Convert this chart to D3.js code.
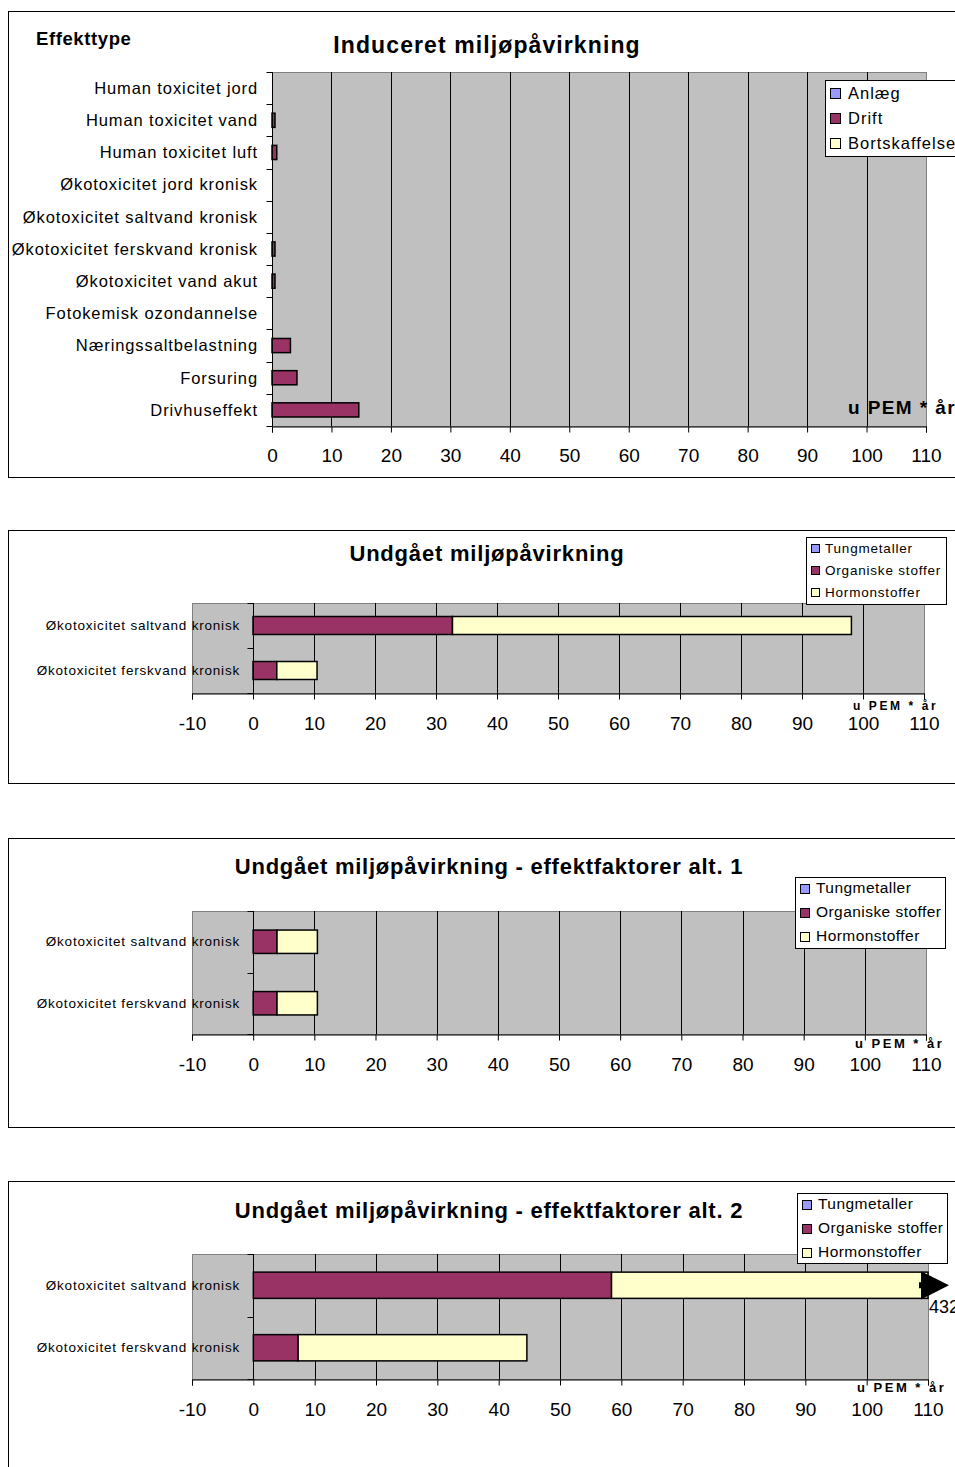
<!DOCTYPE html>
<html><head><meta charset="utf-8">
<script src="https://cdn.jsdelivr.net/npm/d3@7"></script>
<style>
body{margin:0;background:#fff;}
svg{display:block;font-family:"Liberation Sans",Arial,sans-serif;}
</style></head>
<body>
<svg id="c" width="955" height="1467"></svg>
<script>
// ---------- DATA ----------
const chart1Title = "Induceret miljøpåvirkning";
const chart1Categories = ["Human toxicitet jord","Human toxicitet vand","Human toxicitet luft","Økotoxicitet jord kronisk","Økotoxicitet saltvand kronisk","Økotoxicitet ferskvand kronisk","Økotoxicitet vand akut","Fotokemisk ozondannelse","Næringssaltbelastning","Forsuring","Drivhuseffekt"];
const chart1Series = ["Anlæg","Drift","Bortskaffelse"];
const chart1Anlaeg = [0,0,0,0,0,0,0,0,0,0,0];
const chart1Drift = [0,0.5,0.8,0,0,0.5,0.5,0,3.1,4.2,14.6];
const chart1Bortskaffelse = [0,0,0,0,0,0,0,0,0,0,0];
const chart1Ticks = [0,10,20,30,40,50,60,70,80,90,100,110];

const avoidedCategories = ["Økotoxicitet saltvand kronisk","Økotoxicitet ferskvand kronisk"];
const avoidedSeries = ["Tungmetaller","Organiske stoffer","Hormonstoffer"];
const avoidedTicks = [-10,0,10,20,30,40,50,60,70,80,90,100,110];

const chart2Title = "Undgået miljøpåvirkning";
const chart2Tung = [0,0];
const chart2Org = [32.7,3.9];
const chart2Horm = [65.4,6.6];

const chart3Title = "Undgået miljøpåvirkning - effektfaktorer alt. 1";
const chart3Tung = [0,0];
const chart3Org = [3.9,3.9];
const chart3Horm = [6.6,6.6];

const chart4Title = "Undgået miljøpåvirkning - effektfaktorer alt. 2";
const chart4Tung = [0,0];
const chart4Org = [58.4,7.3];
const chart4Horm = [373.6,37.3];
const chart4TotalLabel = ["432",""];

const unitLabel = "u PEM * år";
const colors = ["#9999FF","#993366","#FFFFCC"];

// ---------- DRAW ----------
const svg = d3.select("#c");

function drawChart(cfg){
  const g = svg.append("g");
  g.append("rect").attr("x",cfg.frame[0]+0.5).attr("y",cfg.frame[1]+0.5)
    .attr("width",cfg.frame[2]).attr("height",cfg.frame[3])
    .attr("fill","#fff").attr("stroke","#000").attr("stroke-width",1);

  const x = d3.scaleLinear().domain(cfg.domain).range([cfg.plot.x0,cfg.plot.x1]);
  const y = d3.scaleBand().domain(cfg.categories).range([cfg.plot.y0,cfg.plot.y1])
    .paddingInner(cfg.pad).paddingOuter(cfg.pad/2);

  g.append("rect").attr("x",cfg.plot.x0+0.5).attr("y",cfg.plot.y0+0.5)
    .attr("width",cfg.plot.x1-cfg.plot.x0).attr("height",cfg.plot.y1-cfg.plot.y0)
    .attr("fill","#C0C0C0").attr("stroke","#808080");

  g.append("g").selectAll("line").data(cfg.ticks.filter(t=>t!==cfg.domain[0] && t!==cfg.domain[1] && t!==0))
    .join("line").attr("x1",d=>Math.round(x(d))+0.5).attr("x2",d=>Math.round(x(d))+0.5)
    .attr("y1",cfg.plot.y0).attr("y2",cfg.plot.y1).attr("stroke","#000");

  const series = cfg.series;
  const stackData = cfg.categories.map((c,i)=>{const o={cat:c}; series.forEach((s,j)=>o[s]=cfg.values[j][i]); return o;});
  const stacked = d3.stack().keys(series)(stackData);
  const dmax = cfg.domain[1];
  stacked.forEach((layer,j)=>{
    g.append("g").selectAll("rect").data(layer.filter(d=>d[1]-d[0]>0)).join("rect")
      .attr("x",d=>x(Math.min(d[0],dmax)))
      .attr("y",d=>y(d.data.cat))
      .attr("width",d=>Math.max(0,x(Math.min(d[1],dmax))-x(Math.min(d[0],dmax))))
      .attr("height",y.bandwidth())
      .attr("fill",colors[j]).attr("stroke","#000").attr("stroke-width",1.5);
  });

  if(cfg.overflow){
    cfg.categories.forEach((c,i)=>{
      const tot = d3.sum(cfg.values,v=>v[i]);
      if(tot>dmax){
        const xe = x(dmax), yc = y(c)+y.bandwidth()/2, h = y.bandwidth()+2;
        g.append("rect").attr("x",xe-9).attr("y",yc-3).attr("width",8).attr("height",6).attr("fill","#000");
        g.append("path").attr("d",`M${xe-7},${yc-h/2} L${xe+21},${yc} L${xe-7},${yc+h/2} Z`).attr("fill","#000");
        g.append("text").attr("x",xe+1).attr("y",yc+h/2+14).attr("font-size",18).text(cfg.overflow[i]);
      }
    });
  }

  const x0 = Math.round(x(0))+0.5;
  g.append("line").attr("x1",x0).attr("x2",x0).attr("y1",cfg.plot.y0).attr("y2",cfg.plot.y1).attr("stroke","#000");
  const bounds = [cfg.plot.y0].concat(cfg.categories.map(c=>y(c)+y.bandwidth()+y.step()*cfg.pad/2));
  g.append("g").selectAll("line").data(bounds).join("line")
    .attr("x1",x0-6).attr("x2",x0).attr("y1",d=>Math.round(d)+0.5).attr("y2",d=>Math.round(d)+0.5).attr("stroke","#000");

  g.append("g").selectAll("text").data(cfg.categories).join("text")
    .attr("x",cfg.labelX).attr("y",d=>y(d)+y.bandwidth()/2).attr("dy","0.35em")
    .attr("text-anchor","end").attr("font-size",cfg.labelSize).attr("letter-spacing",cfg.labelLs)
    .attr("fill","#000").text(d=>d);

  const ax = d3.axisBottom(x).tickValues(cfg.ticks).tickSize(6).tickPadding(cfg.tickPad).tickFormat(d=>String(d));
  const axg = g.append("g").attr("transform",`translate(0,${cfg.plot.y1+0.5})`).call(ax);
  axg.select(".domain").attr("stroke","#000");
  axg.selectAll(".tick line").attr("stroke","#000");
  axg.selectAll(".tick text").attr("font-size",cfg.tickSize).attr("fill","#000")
    .attr("font-family","Liberation Sans, Arial, sans-serif");

  g.append("text").attr("x",cfg.titleX).attr("y",cfg.titleY).attr("text-anchor","middle")
    .attr("font-weight","bold").attr("font-size",cfg.titleSize).attr("letter-spacing",cfg.titleLs).text(cfg.title);

  g.append("text").attr("x",cfg.unit.x).attr("y",cfg.unit.y).attr("font-weight","bold")
    .attr("font-size",cfg.unit.size).attr("letter-spacing",cfg.unit.ls).text(unitLabel);

  const L = cfg.legend;
  const lg = g.append("g");
  lg.append("rect").attr("x",L.x+0.5).attr("y",L.y+0.5).attr("width",L.w).attr("height",L.h)
    .attr("fill","#fff").attr("stroke","#000");
  series.forEach((s,j)=>{
    const yy = L.y+L.first+j*L.step;
    lg.append("rect").attr("x",L.x+5.5).attr("y",Math.round(yy-L.sw/2)+0.5).attr("width",L.sw).attr("height",L.sw)
      .attr("fill",colors[j]).attr("stroke","#000");
    lg.append("text").attr("x",L.x+L.tx).attr("y",yy).attr("dy","0.35em").attr("font-size",L.size)
      .attr("letter-spacing",L.ls).text(s);
  });
  return g;
}

// Chart 1
const c1 = drawChart({
  frame:[8,11,960,466], domain:[0,110], ticks:chart1Ticks,
  plot:{x0:272,x1:926,y0:72,y1:426}, categories:chart1Categories, pad:0.56,
  series:chart1Series, values:[chart1Anlaeg,chart1Drift,chart1Bortskaffelse],
  labelX:258, labelSize:16.5, labelLs:0.9, tickSize:19, tickPad:16,
  title:chart1Title, titleX:487, titleY:53, titleSize:23, titleLs:1.1,
  unit:{x:848,y:414,size:19,ls:1.4},
  legend:{x:825,y:80,w:140,h:76,first:13,step:25,sw:10,size:16.5,ls:1,tx:23}
});
c1.append("text").attr("x",36).attr("y",45).attr("font-weight","bold").attr("font-size",18.5)
  .attr("letter-spacing",0.6).text("Effekttype");

// Chart 2
drawChart({
  frame:[8,530,960,253], domain:[-10,110], ticks:avoidedTicks,
  plot:{x0:192,x1:924,y0:603,y1:693}, categories:avoidedCategories, pad:0.6,
  series:avoidedSeries, values:[chart2Tung,chart2Org,chart2Horm],
  labelX:240, labelSize:13.5, labelLs:0.8, tickSize:19, tickPad:17,
  title:chart2Title, titleX:487, titleY:561, titleSize:22, titleLs:0.8,
  unit:{x:853,y:710,size:12,ls:2.6},
  legend:{x:806,y:537,w:140,h:67,first:11,step:22,sw:8,size:13.5,ls:0.8,tx:19}
});

// Chart 3
drawChart({
  frame:[8,838,960,289], domain:[-10,110], ticks:avoidedTicks,
  plot:{x0:192,x1:926,y0:911,y1:1034}, categories:avoidedCategories, pad:0.62,
  series:avoidedSeries, values:[chart3Tung,chart3Org,chart3Horm],
  labelX:240, labelSize:13.5, labelLs:0.8, tickSize:19, tickPad:17,
  title:chart3Title, titleX:489, titleY:874, titleSize:22, titleLs:0.75,
  unit:{x:855,y:1048,size:13,ls:2.5},
  legend:{x:795,y:877,w:150,h:71,first:11,step:24,sw:9,size:15.5,ls:0.45,tx:21}
});

// Chart 4
drawChart({
  frame:[8,1181,960,300], domain:[-10,110], ticks:avoidedTicks,
  plot:{x0:192,x1:928,y0:1254,y1:1379}, categories:avoidedCategories, pad:0.58,
  series:avoidedSeries, values:[chart4Tung,chart4Org,chart4Horm],
  labelX:240, labelSize:13.5, labelLs:0.8, tickSize:19, tickPad:17,
  title:chart4Title, titleX:489, titleY:1218, titleSize:22, titleLs:0.75,
  unit:{x:857,y:1392,size:13,ls:2.5},
  legend:{x:797,y:1193,w:150,h:70,first:11,step:24,sw:9,size:15.5,ls:0.45,tx:21},
  overflow:chart4TotalLabel
});
</script>
</body></html>
